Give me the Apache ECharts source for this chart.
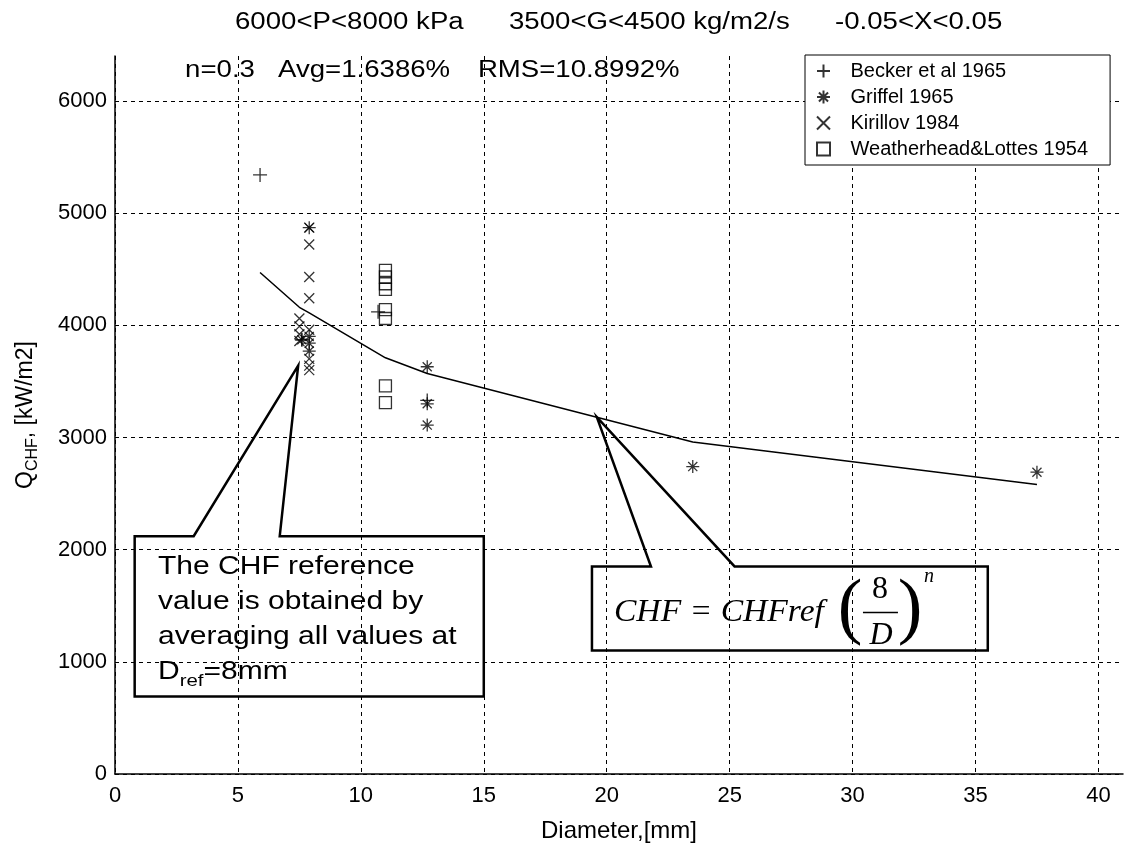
<!DOCTYPE html>
<html>
<head>
<meta charset="utf-8">
<script src="https://cdn.jsdelivr.net/npm/echarts@6/dist/echarts.min.js"></script>
<style>
html, body { margin: 0; padding: 0; background: #fff; }
#main { width: 1127px; height: 848px; }
</style>
</head>
<body>
<div id="main"></div>
<script>
// Messwerte: Durchmesser D [mm], kritische Waermestromdichte Q_CHF [kW/m2]
var beckerD = [5.9, 7.6, 10.7, 12.7];
var beckerQ = [5340, 3870, 4120, 3330];

var griffelD = [7.9, 7.6, 7.9, 7.9, 7.9, 12.7, 12.7, 12.7, 23.5, 37.5];
var griffelQ = [4870, 3870, 3900, 3840, 3770, 3630, 3300, 3110, 2740, 2690];

var kirillovD = [7.9, 7.9, 7.9, 7.9, 7.5, 7.5, 7.5, 7.5, 7.9, 7.9, 7.9, 7.9];
var kirillovQ = [4870, 4720, 4430, 4240, 4060, 3990, 3920, 3860, 3960, 3700, 3640, 3600];

var weatherD = [11.0, 11.0, 11.0, 11.0, 11.0, 11.0, 11.0, 11.0];
var weatherQ = [4490, 4430, 4370, 4320, 4140, 4060, 3460, 3310];

// Korrelationskurve CHF = CHFref*(8/D)^n
var fitD = [5.9, 7.5, 7.9, 11.0, 12.7, 23.5, 37.5];
var fitQ = [4470, 4160, 4110, 3710, 3570, 2960, 2580];

var xTicks = [0, 5, 10, 15, 20, 25, 30, 35, 40];
var yTicks = [0, 1000, 2000, 3000, 4000, 5000, 6000];

var seriesNames = ['Becker et al 1965', 'Griffel 1965', 'Kirillov 1984', 'Weatherhead&Lottes 1954'];

function pairs(xs, ys) {
  return xs.map(function (x, i) { return [x, ys[i]]; });
}

var SANS = 'Liberation Sans, Arial, sans-serif';
var SERIF = 'Liberation Serif, Times New Roman, serif';
var WIDE = 1.2; // Schrift im Original horizontal gestreckt

var plusPath = 'path://M5,0L5,10M0,5L10,5';
var crossPath = 'path://M0,0L10,10M10,0L0,10';
var starPath = 'path://M5,0L5,10M0,5L10,5M1.5,1.5L8.5,8.5M8.5,1.5L1.5,8.5';
var squarePath = 'path://M0,0L10,0L10,10L0,10Z';

function markerStyle() {
  return { color: 'rgba(0,0,0,0)', borderColor: '#000', borderWidth: 1.3 };
}

var gridLine = { show: true, showMaxLine: false, lineStyle: { color: '#000', type: [4, 4], width: 1 } };

var myChart = echarts.init(document.getElementById('main'));

var option = {
  animation: false,
  backgroundColor: '#fff',
  grid: { left: 115, top: 56, width: 1008, height: 719 },
  xAxis: {
    type: 'value',
    min: 0,
    max: 41,
    interval: 5,
    name: 'Diameter,[mm]',
    nameLocation: 'middle',
    nameGap: 45,
    nameTextStyle: { fontFamily: SANS, fontSize: 24, color: '#000' },
    axisLine: { show: true, onZero: false, lineStyle: { color: '#000', width: 1.5 } },
    axisTick: { show: false },
    axisLabel: {
      fontFamily: SANS, fontSize: 22, color: '#000', margin: 11,
      showMaxLabel: false,
      formatter: function (v) { return xTicks.indexOf(v) >= 0 ? String(v) : ''; }
    },
    splitLine: gridLine
  },
  yAxis: {
    type: 'value',
    min: 0,
    max: 6400,
    interval: 1000,
    name: '{q|Q}{s|CHF}{q|, [kW/m2]}',
    nameLocation: 'middle',
    nameRotate: 90,
    nameGap: 74,
    nameTextStyle: {
      color: '#000',
      rich: {
        q: { fontFamily: SANS, fontSize: 23, color: '#000', lineHeight: 30, verticalAlign: 'middle' },
        s: { fontFamily: SANS, fontSize: 16, color: '#000', lineHeight: 30, verticalAlign: 'bottom' }
      }
    },
    axisLine: { show: true, onZero: false, lineStyle: { color: '#000', width: 1.5 } },
    axisTick: { show: false },
    axisLabel: {
      fontFamily: SANS, fontSize: 22, color: '#000', margin: 8,
      showMaxLabel: false,
      formatter: function (v) { return yTicks.indexOf(v) >= 0 ? String(v) : ''; }
    },
    splitLine: gridLine
  },
  legend: {
    data: seriesNames,
    orient: 'vertical',
    left: 805,
    top: 55,
    itemWidth: 44,
    itemHeight: 13,
    itemGap: 6,
    padding: [6, 22, 6, 11],
    backgroundColor: '#fff',
    borderColor: '#000',
    borderWidth: 1,
    textStyle: { fontFamily: SANS, fontSize: 20, lineHeight: 20, color: '#000' }
  },
  series: [
    {
      name: 'fit',
      type: 'line',
      data: pairs(fitD, fitQ),
      symbol: 'none',
      lineStyle: { color: '#000', width: 1.5 },
      z: 3
    },
    {
      name: seriesNames[0],
      type: 'scatter',
      data: pairs(beckerD, beckerQ),
      symbol: plusPath,
      symbolSize: 14,
      itemStyle: markerStyle(),
      z: 4
    },
    {
      name: seriesNames[1],
      type: 'scatter',
      data: pairs(griffelD, griffelQ),
      symbol: starPath,
      symbolSize: 13,
      itemStyle: markerStyle(),
      z: 4
    },
    {
      name: seriesNames[2],
      type: 'scatter',
      data: pairs(kirillovD, kirillovQ),
      symbol: crossPath,
      symbolSize: 10,
      itemStyle: markerStyle(),
      z: 4
    },
    {
      name: seriesNames[3],
      type: 'scatter',
      data: pairs(weatherD, weatherQ),
      symbol: squarePath,
      symbolSize: 12,
      itemStyle: markerStyle(),
      z: 4
    }
  ]
};

myChart.setOption(option);

// Annotationen (Positionen in Datenkoordinaten, Umrechnung ueber die Achsen)
function px(d, q) {
  return myChart.convertToPixel({ gridIndex: 0 }, [d, q]);
}

var callout1 = [[0.8, 2120], [3.2, 2120], [7.45, 3640], [6.7, 2120], [15.0, 2120], [15.0, 690], [0.8, 690]];
var callout2 = [[19.4, 1850], [21.8, 1850], [19.6, 3180], [25.2, 1850], [35.5, 1850], [35.5, 1100], [19.4, 1100]];

var box2 = px(19.4, 1850);
var L = box2[0], T = box2[1];
var text1Pos = px(1.75, 2000);
var statY = px(0, 6270)[1];
var statX = [px(2.85, 0)[0], px(6.63, 0)[0], px(14.76, 0)[0]];
var statText = ['n=0.3', 'Avg=1.6386%', 'RMS=10.8992%'];
var titleX = [235, 509, 835];
var titleText = ['6000<P<8000 kPa', '3500<G<4500 kg/m2/s', '-0.05<X<0.05'];

var graphics = [
  {
    type: 'polygon',
    shape: { points: callout1.map(function (p) { return px(p[0], p[1]); }) },
    style: { fill: 'none', stroke: '#000', lineWidth: 2.5 },
    z: 50
  },
  {
    type: 'polygon',
    shape: { points: callout2.map(function (p) { return px(p[0], p[1]); }) },
    style: { fill: 'none', stroke: '#000', lineWidth: 2.5 },
    z: 50
  },
  {
    type: 'text',
    x: text1Pos[0], y: text1Pos[1],
    scaleX: WIDE,
    style: {
      text: 'The CHF reference\nvalue is obtained by\naveraging all values at\n{d|D}{s|ref}{d|=8mm}',
      fontFamily: SANS, fontSize: 25, lineHeight: 35, fill: '#000',
      verticalAlign: 'top', align: 'left',
      rich: {
        d: { fontFamily: SANS, fontSize: 25, lineHeight: 35, verticalAlign: 'middle', fill: '#000' },
        s: { fontFamily: SANS, fontSize: 17, lineHeight: 35, verticalAlign: 'bottom', fill: '#000' }
      }
    },
    z: 51
  }
];

statText.forEach(function (t, i) {
  graphics.push({
    type: 'text', x: statX[i], y: statY, scaleX: WIDE,
    style: { text: t, fontFamily: SANS, fontSize: 23, fill: '#000', verticalAlign: 'middle' },
    z: 51
  });
});

titleText.forEach(function (t, i) {
  graphics.push({
    type: 'text', x: titleX[i], y: 23, scaleX: WIDE,
    style: { text: t, fontFamily: SANS, fontSize: 23, fill: '#000', verticalAlign: 'middle' },
    z: 51
  });
});

// Formel im zweiten Kasten
graphics.push(
  {
    type: 'text', x: L + 22, y: T + 46, scaleX: 1.05,
    style: { text: 'CHF = CHFref', fontFamily: SERIF, fontStyle: 'italic', fontSize: 32, fill: '#000', verticalAlign: 'middle' },
    z: 51
  },
  {
    type: 'text', x: L + 258, y: T + 44,
    style: { text: '(', fontFamily: SERIF, fontSize: 74, fill: '#000', align: 'center', verticalAlign: 'middle' },
    z: 51
  },
  {
    type: 'text', x: L + 288, y: T + 23,
    style: { text: '8', fontFamily: SERIF, fontSize: 32, fill: '#000', align: 'center', verticalAlign: 'middle' },
    z: 51
  },
  {
    type: 'line',
    shape: { x1: L + 271, y1: T + 46, x2: L + 306, y2: T + 46 },
    style: { stroke: '#000', lineWidth: 1.5 },
    z: 51
  },
  {
    type: 'text', x: L + 289, y: T + 69,
    style: { text: 'D', fontFamily: SERIF, fontStyle: 'italic', fontSize: 32, fill: '#000', align: 'center', verticalAlign: 'middle' },
    z: 51
  },
  {
    type: 'text', x: L + 318, y: T + 44,
    style: { text: ')', fontFamily: SERIF, fontSize: 74, fill: '#000', align: 'center', verticalAlign: 'middle' },
    z: 51
  },
  {
    type: 'text', x: L + 332, y: T + 10,
    style: { text: 'n', fontFamily: SERIF, fontStyle: 'italic', fontSize: 20, fill: '#000', verticalAlign: 'middle' },
    z: 51
  }
);

myChart.setOption({ graphic: graphics });
</script>
</body>
</html>
